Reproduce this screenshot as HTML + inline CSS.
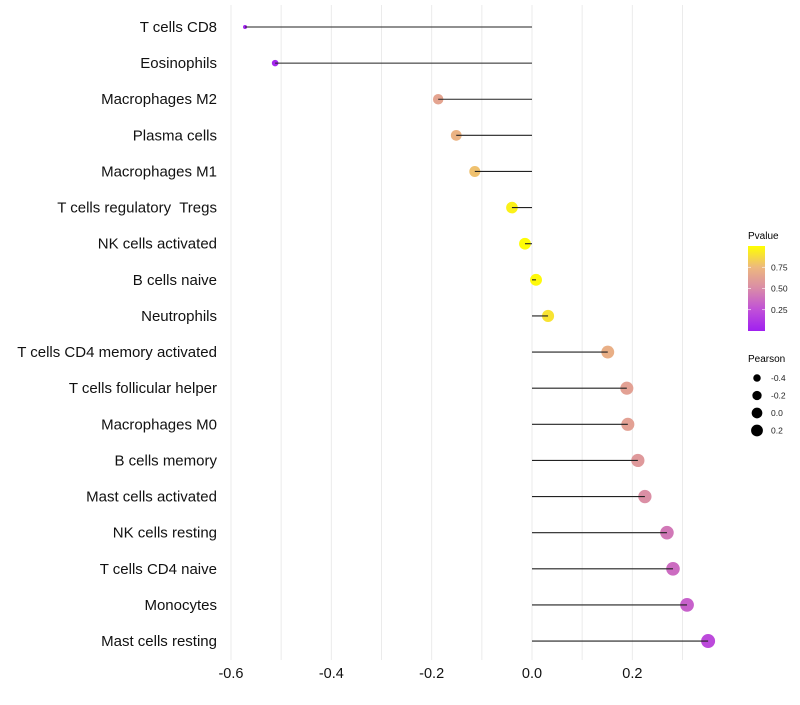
<!DOCTYPE html>
<html><head><meta charset="utf-8"><style>
body{margin:0;background:#fff;font-family:"Liberation Sans",sans-serif}
</style></head><body>
<svg id="c" width="800" height="700" xmlns="http://www.w3.org/2000/svg" font-family="Liberation Sans, sans-serif"></svg>
<script>
const categories=["T cells CD8","Eosinophils","Macrophages M2","Plasma cells","Macrophages M1","T cells regulatory  Tregs","NK cells activated","B cells naive","Neutrophils","T cells CD4 memory activated","T cells follicular helper","Macrophages M0","B cells memory","Mast cells activated","NK cells resting","T cells CD4 naive","Monocytes","Mast cells resting"];
const pearson=[-0.572,-0.512,-0.187,-0.151,-0.114,-0.040,-0.014,0.008,0.032,0.151,0.189,0.191,0.211,0.225,0.269,0.281,0.309,0.351];
const pvalue=[0.01,0.03,0.64,0.72,0.78,0.95,0.99,0.98,0.9,0.7,0.62,0.62,0.58,0.52,0.42,0.37,0.32,0.22];
const xTicks=[-0.6,-0.4,-0.2,0.0,0.2];
const xTickLabels=["-0.6","-0.4","-0.2","0.0","0.2"];
const sizeLegend=[-0.4,-0.2,0.0,0.2];
const colorLegend=[0.25,0.5,0.75];

const svg=document.getElementById('c');
const NS='http://www.w3.org/2000/svg';
function mk(t,a,p){const e=document.createElementNS(NS,t);for(const k in a)e.setAttribute(k,a[k]);(p||svg).appendChild(e);return e;}
const X=v=>532+v*501.7;
const Y=i=>27+i*36.12;
const R=v=>2+5*Math.sqrt(Math.max(0,(v+0.572)/0.923));
const stops=[[0,[160,32,240]],[0.25,[192,80,216]],[0.5,[217,139,168]],[0.75,[237,184,126]],[1,[255,255,0]]];
function col(p){for(let i=0;i<stops.length-1;i++){const a=stops[i],b=stops[i+1];if(p<=b[0]){const t=(p-a[0])/(b[0]-a[0]);return 'rgb('+a[1].map((c,j)=>Math.round(c+(b[1][j]-c)*t)).join(',')+')';}}return 'rgb(255,255,0)';}

for(let v=-0.6;v<=0.301;v+=0.1){
  const g=mk('line',{x1:X(v),x2:X(v),y1:5,y2:660,stroke:'#ebebeb','stroke-width':1});
  
  
}
xTicks.forEach((v,i)=>{
  const t=mk('text',{x:X(v),y:678,'text-anchor':'middle','font-size':14.5,fill:'#111'});
  t.textContent=xTickLabels[i];
  
  
});
categories.forEach((c,i)=>{
  const t=mk('text',{x:217,y:Y(i)+5,'text-anchor':'end','font-size':15,fill:'#111'});
  t.textContent=c;
  
  
  t.style.whiteSpace='pre';
  const pt=mk('circle',{cx:X(pearson[i]),cy:Y(i),r:R(pearson[i]),fill:col(pvalue[i])});
  
  
  const ln=mk('line',{x1:X(0),x2:X(pearson[i]),y1:Y(i),y2:Y(i),stroke:'#222','stroke-width':1.1});
  
  
});
const defs=mk('defs',{});
const lg=mk('linearGradient',{id:'g',x1:0,y1:1,x2:0,y2:0},defs);
stops.forEach(s=>mk('stop',{offset:s[0],'stop-color':'rgb('+s[1].join(',')+')'},lg));
const ct=mk('text',{x:748,y:239,'font-size':10,fill:'#000'});ct.textContent='Pvalue';


const bar=mk('rect',{x:748,y:246,width:17,height:85,fill:'url(#g)'});


colorLegend.forEach(p=>{
  const y=331-p*85;
  mk('line',{x1:748,x2:751,y1:y,y2:y,stroke:'#fff','stroke-width':0.6});
  mk('line',{x1:762,x2:765,y1:y,y2:y,stroke:'#fff','stroke-width':0.6});
  const t=mk('text',{x:771,y:y+3,'font-size':8.5,fill:'#222'});t.textContent=p.toFixed(2);
  
  
});
const st=mk('text',{x:748,y:362,'font-size':10,fill:'#000'});st.textContent='Pearson';


sizeLegend.forEach((v,i)=>{
  const y=378+i*17.5;
  const c=mk('circle',{cx:757,cy:y,r:R(v)*0.9,fill:'#000'});
  
  
  const t=mk('text',{x:771,y:y+3,'font-size':8.5,fill:'#222'});t.textContent=v.toFixed(1);
  
  
});
</script>
</body></html>
